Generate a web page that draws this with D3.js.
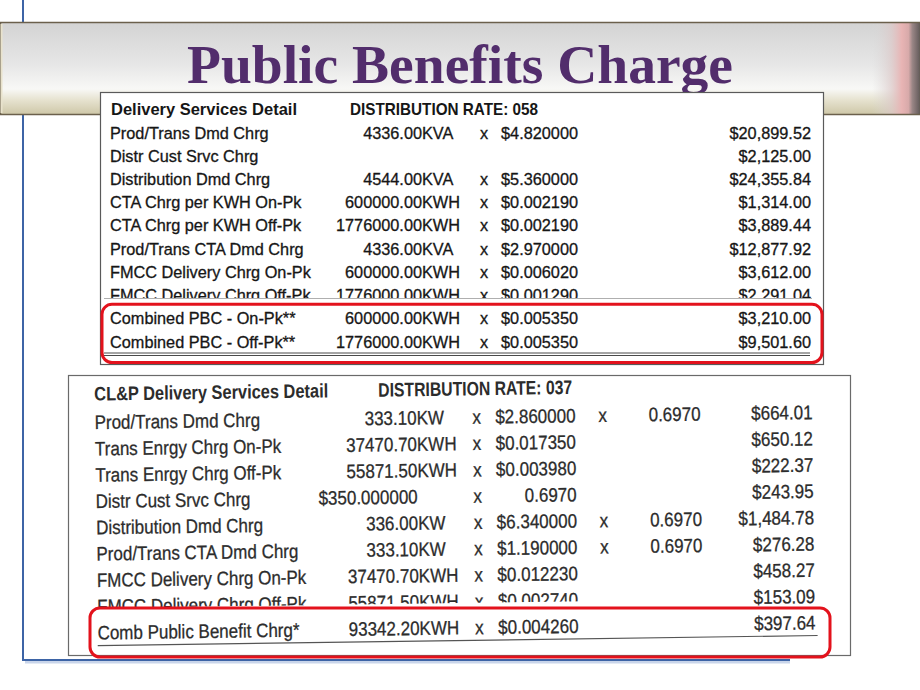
<!DOCTYPE html>
<html>
<head>
<meta charset="utf-8">
<script src="https://cdn.jsdelivr.net/npm/d3@7"></script>
<style>
    html, body { margin: 0; padding: 0; background: #fff; }
    svg { display: block; }
</style>
</head>
<body>
<div id="chart"></div>
<script>
// Slide title
const title = "Public Benefits Charge";

// Top bill extract (rate 058)
const t1Header = ["Delivery Services Detail", "DISTRIBUTION RATE: 058"];
const t1Labels = ["Prod/Trans Dmd Chrg", "Distr Cust Srvc Chrg", "Distribution Dmd Chrg", "CTA Chrg per KWH On-Pk",
    "CTA Chrg per KWH Off-Pk", "Prod/Trans CTA Dmd Chrg", "FMCC Delivery Chrg On-Pk", "FMCC Delivery Chrg Off-Pk",
    "Combined PBC - On-Pk**", "Combined PBC - Off-Pk**"];
const t1Qty = ["4336.00KVA", "", "4544.00KVA", "600000.00KWH", "1776000.00KWH", "4336.00KVA",
    "600000.00KWH", "1776000.00KWH", "600000.00KWH", "1776000.00KWH"];
const t1Rate = ["$4.820000", "", "$5.360000", "$0.002190", "$0.002190", "$2.970000",
    "$0.006020", "$0.001290", "$0.005350", "$0.005350"];
const t1Amount = ["$20,899.52", "$2,125.00", "$24,355.84", "$1,314.00", "$3,889.44", "$12,877.92",
    "$3,612.00", "$2,291.04", "$3,210.00", "$9,501.60"];
const t1Highlight = ["Combined PBC - On-Pk**", "Combined PBC - Off-Pk**"];

// Bottom bill extract (rate 037)
const t2Header = ["CL&P Delivery Services Detail", "DISTRIBUTION RATE: 037"];
const t2Labels = ["Prod/Trans Dmd Chrg", "Trans Enrgy Chrg On-Pk", "Trans Enrgy Chrg Off-Pk", "Distr Cust Srvc Chrg",
    "Distribution Dmd Chrg", "Prod/Trans CTA Dmd Chrg", "FMCC Delivery Chrg On-Pk", "FMCC Delivery Chrg Off-Pk",
    "Comb Public Benefit Chrg*"];
const t2Qty = ["333.10KW", "37470.70KWH", "55871.50KWH", "$350.000000", "336.00KW", "333.10KW",
    "37470.70KWH", "55871.50KWH", "93342.20KWH"];
const t2Rate = ["$2.860000", "$0.017350", "$0.003980", "0.6970", "$6.340000", "$1.190000",
    "$0.012230", "$0.002740", "$0.004260"];
const t2Factor = ["0.6970", "", "", "", "0.6970", "0.6970", "", "", ""];
const t2Amount = ["$664.01", "$650.12", "$222.37", "$243.95", "$1,484.78", "$276.28",
    "$458.27", "$153.09", "$397.64"];
const t2Highlight = ["Comb Public Benefit Chrg*"];

// Row that was cut when the bills were scanned
const cutRow = "FMCC Delivery Chrg Off-Pk";

const width = 920;
const height = 690;
const sans = "'Liberation Sans', Arial, sans-serif";

const svg = d3.select("#chart")
    .append("svg")
    .attr("width", width)
    .attr("height", height);

const defs = svg.append("defs");

// Header band gradients
const bandGrad = defs.append("linearGradient").attr("id", "bandGrad")
    .attr("x1", 0).attr("y1", 0).attr("x2", 0).attr("y2", 1);
[[0, "#d3d3d3"], [0.45, "#e6e6e6"], [0.72, "#f8f8f6"], [0.84, "#e6e2cf"], [1, "#cdc6a6"]]
    .forEach(s => bandGrad.append("stop").attr("offset", s[0]).attr("stop-color", s[1]));

const edgeGrad = defs.append("linearGradient").attr("id", "edgeGrad")
    .attr("x1", 0).attr("y1", 0).attr("x2", 1).attr("y2", 0);
[[0, "#d8d8d8", 0], [0.4, "#dcc8c8", 0.7], [0.62, "#e8b4b4", 1], [0.76, "#d8aaaa", 1], [0.84, "#9a8686", 1], [1, "#625a5a", 1]]
    .forEach(s => edgeGrad.append("stop").attr("offset", s[0]).attr("stop-color", s[1]).attr("stop-opacity", s[2]));

// Slide frame lines
const blue = "#3d64a6";
svg.append("line").attr("x1", 23).attr("y1", 0).attr("x2", 23).attr("y2", 660)
    .attr("stroke", blue).attr("stroke-width", 2);
svg.append("line").attr("x1", 25).attr("y1", 662).attr("x2", 790).attr("y2", 662)
    .attr("stroke", "#c9d5ea").attr("stroke-width", 3);
svg.append("line").attr("x1", 22).attr("y1", 660).attr("x2", 790).attr("y2", 660)
    .attr("stroke", blue).attr("stroke-width", 2);

// Header band
svg.append("rect").attr("x", 0).attr("y", 22).attr("width", width).attr("height", 93)
    .attr("fill", "url(#bandGrad)");
svg.append("rect").attr("x", 872).attr("y", 22).attr("width", 48).attr("height", 93)
    .attr("fill", "url(#edgeGrad)");
svg.append("rect").attr("x", 0.5).attr("y", 22.5).attr("width", width).attr("height", 92)
    .attr("fill", "none").attr("stroke", "#6b604c").attr("stroke-width", 1.5);
svg.append("line").attr("x1", 1.5).attr("y1", 24).attr("x2", 1.5).attr("y2", 113)
    .attr("stroke", "#e8e2cc").attr("stroke-width", 2);

svg.append("text")
    .attr("x", 187).attr("y", 83)
    .attr("textLength", 546).attr("lengthAdjust", "spacingAndGlyphs")
    .attr("font-family", "'Liberation Serif', 'DejaVu Serif', serif")
    .attr("font-weight", "bold")
    .attr("font-size", 54)
    .attr("fill", "#522d6c")
    .text(title);

// Helper: one piece of text in a bill table
function cell(g, x, y, str, anchor, o) {
    if (!str) return;
    const t = g.append("text")
        .attr("transform", `translate(${x},${y}) scale(1,${o.sy})`)
        .attr("text-anchor", anchor)
        .attr("font-family", sans)
        .attr("font-size", o.size)
        .attr("fill", o.color)
        .attr("stroke", o.color)
        .attr("stroke-width", o.weight || 0)
        .text(str);
    if (o.bold) t.attr("font-weight", "bold");
    if (o.len) t.attr("textLength", o.len).attr("lengthAdjust", "spacingAndGlyphs");
}

function splitQty(q) {
    const m = q.match(/^([$\d.,]+)([A-Z]*)$/);
    return m ? [m[1], m[2]] : [q, ""];
}

// ---------- Table 1 ----------
svg.append("rect").attr("x", 100.5).attr("y", 92.5).attr("width", 723).attr("height", 272)
    .attr("fill", "#fff").attr("stroke", "#5a5a5a").attr("stroke-width", 1.2);

const t1 = svg.append("g");
const o1 = { size: 16.3, sy: 1, color: "#161616", weight: 0.3 };
const y1 = d3.scalePoint().domain(t1Labels).range([138.5, 347.5]);
const col1 = { label: 110, qty: 422, x: 484, rate: 578, amount: 811 };

cell(t1, 111, 114.5, t1Header[0], "start", { ...o1, bold: true, len: 186, weight: 0 });
cell(t1, 350, 114.5, t1Header[1], "start", { ...o1, bold: true, len: 188, weight: 0 });

defs.append("clipPath").attr("id", "cut1")
    .append("rect").attr("x", 100).attr("y", 92).attr("width", 724).attr("height", 206);

t1Labels.forEach((lab, i) => {
    const y = y1(lab);
    const row = t1.append("g");
    if (lab === cutRow) row.attr("clip-path", "url(#cut1)");
    cell(row, col1.label, y, lab, "start", o1);
    const [num, unit] = splitQty(t1Qty[i]);
    cell(row, col1.qty, y, num, "end", o1);
    cell(row, col1.qty, y, unit, "start", o1);
    if (t1Rate[i]) cell(row, col1.x, y, "x", "middle", o1);
    cell(row, col1.rate, y, t1Rate[i], "end", o1);
    cell(row, col1.amount, y, t1Amount[i], "end", o1);
});
// scan splice line and total underline
t1.append("line").attr("x1", 104).attr("y1", 298.5).attr("x2", 812).attr("y2", 298.5)
    .attr("stroke", "#9a9a9a").attr("stroke-width", 0.8);
[353, 355.5].forEach(y => t1.append("line").attr("x1", 104).attr("y1", y).attr("x2", 810).attr("y2", y)
    .attr("stroke", "#4a4a4a").attr("stroke-width", 1));

// highlight box around the public benefit rows
const h1 = t1Highlight.map(d => y1(d));
svg.append("rect")
    .attr("x", 102).attr("y", d3.min(h1) - 20)
    .attr("width", 720).attr("height", d3.max(h1) - d3.min(h1) + 35)
    .attr("rx", 10)
    .attr("fill", "none").attr("stroke", "#e3121c").attr("stroke-width", 3);

// ---------- Table 2 ----------
svg.append("rect").attr("x", 68.5).attr("y", 375.5).attr("width", 782).attr("height", 280)
    .attr("fill", "#fff").attr("stroke", "#6a6a6a").attr("stroke-width", 1.2);

const t2 = svg.append("g").attr("transform", "rotate(-0.8, 460, 520)");
const o2 = { size: 17, sy: 1.15, color: "#2c2c2c", weight: 0.25 };
const y2 = d3.scalePoint().domain(t2Labels).range([424, 634.4]);
const col2 = { label: 96, qty: 418, x: 478, rate: 577, x2: 604, factor: 702, amount: 814 };

cell(t2, 96, 395.5, t2Header[0], "start", { ...o2, bold: true, len: 234, weight: 0 });
cell(t2, 380, 395.5, t2Header[1], "start", { ...o2, bold: true, len: 194, weight: 0 });

defs.append("clipPath").attr("id", "cut2")
    .append("rect").attr("x", 60).attr("y", 370).attr("width", 620).attr("height", 233);

t2Labels.forEach((lab, i) => {
    const y = y2(lab);
    const row = t2.append("g");
    if (lab === cutRow) row.attr("clip-path", "url(#cut2)");
    cell(row, col2.label, y, lab, "start", o2);
    const [num, unit] = splitQty(t2Qty[i]);
    cell(row, col2.qty, y, num, "end", o2);
    cell(row, col2.qty, y, unit, "start", o2);
    cell(row, col2.x, y, "x", "middle", o2);
    cell(row, col2.rate, y, t2Rate[i], "end", o2);
    if (t2Factor[i]) cell(row, col2.x2, y, "x", "middle", o2);
    cell(row, col2.factor, y, t2Factor[i], "end", o2);
    cell(t2, col2.amount, y, t2Amount[i], "end", o2);
});
t2.append("line").attr("x1", 96).attr("y1", 640.5).attr("x2", 816).attr("y2", 640.5)
    .attr("stroke", "#555").attr("stroke-width", 1.2);

// highlight box around the public benefit row
const h2 = y2(t2Highlight[0]);
svg.append("rect")
    .attr("x", 90).attr("y", h2 - 26.4)
    .attr("width", 740).attr("height", 49)
    .attr("rx", 10)
    .attr("fill", "none").attr("stroke", "#e3121c").attr("stroke-width", 3);
</script>
</body>
</html>
